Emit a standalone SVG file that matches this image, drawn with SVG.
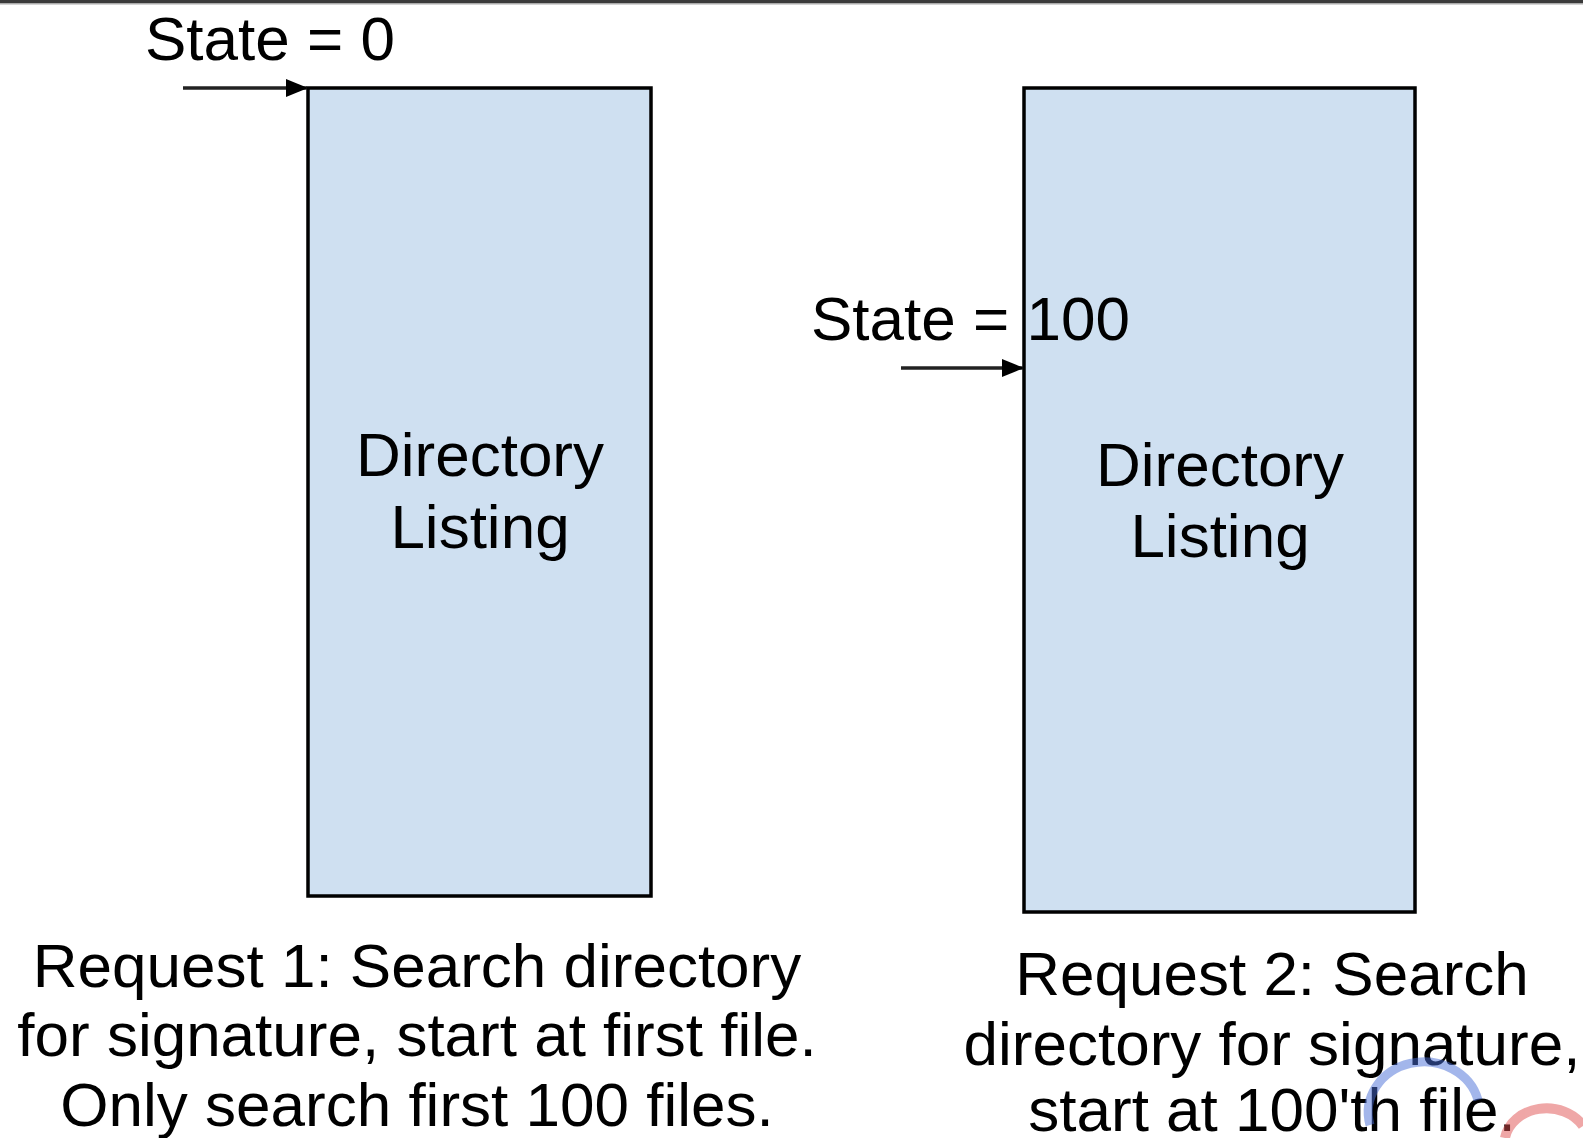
<svg xmlns="http://www.w3.org/2000/svg" width="1583" height="1138" viewBox="0 0 1583 1138">
<style>
.t{font-family:"Liberation Sans",Arial,sans-serif;font-size:62px;fill:#000;}
.c{text-anchor:middle;}
.box{fill:#cfe0f1;stroke:#000;stroke-width:3.5;}
.ln{stroke:#222;stroke-width:3.5;fill:none;}
</style>
<defs>
<marker id="ah" markerWidth="22" markerHeight="18" refX="21" refY="9" orient="auto" markerUnits="userSpaceOnUse">
<path d="M0,0 L22,9 L0,18 z" fill="#000"/>
</marker>
</defs>
<rect x="0" y="0" width="1583" height="1138" fill="#fff"/>
<rect x="0" y="0" width="1583" height="3" fill="#3a3a3a"/>
<rect x="0" y="3" width="1583" height="1.5" fill="#aaa"/>
<g id="box1">
<rect class="box" x="308" y="88" width="343" height="808"/>
<text class="t c" x="480" y="476">Directory</text>
<text class="t c" x="480" y="548">Listing</text>
</g>
<g id="box2">
<rect class="box" x="1024" y="88" width="391" height="824"/>
<text class="t c" x="1220" y="486">Directory</text>
<text class="t c" x="1220" y="557">Listing</text>
</g>
<g id="label-state0">
<text class="t" x="145" y="60">State = 0</text>
</g>
<g id="label-state100">
<text class="t" x="811" y="340">State = 100</text>
</g>
<g id="caption1">
<text class="t c" x="417" y="987">Request 1: Search directory</text>
<text class="t c" x="417" y="1056">for signature, start at first file.</text>
<text class="t c" x="417" y="1126">Only search first 100 files.</text>
</g>
<g id="caption2">
<text class="t c" x="1272" y="995">Request 2: Search</text>
<text class="t c" x="1272" y="1065">directory for signature,</text>
<text class="t c" x="1272" y="1131">start at 100'th file.</text>
</g>
<g id="connectors">
<line class="ln" x1="183" y1="88" x2="307" y2="88" marker-end="url(#ah)"/>
<line class="ln" x1="901" y1="368" x2="1023" y2="368" marker-end="url(#ah)"/>
</g>
<g id="watermark" fill="none" opacity="0.5">
<path d="M1370,1125 A55,50 0 0 1 1478,1100" stroke="#4a6fd8" stroke-width="9"/>
<path d="M1505,1138 A42,35 0 0 1 1583,1126" stroke="#e05050" stroke-width="10"/>
</g>
</svg>
